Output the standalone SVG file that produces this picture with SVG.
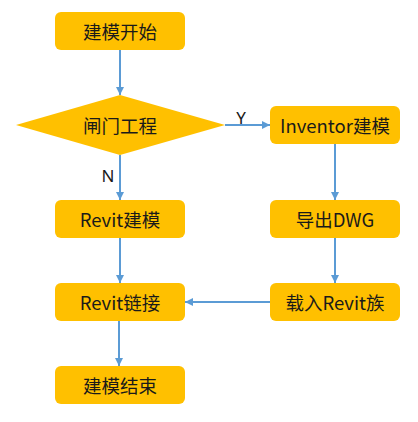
<svg xmlns="http://www.w3.org/2000/svg" width="418" height="422" viewBox="0 0 418 422">
<defs>
<style>
.box{fill:#FFC000;}
.t{font-family:"Noto Sans CJK SC","Noto Sans",sans-serif;font-size:18.5px;font-weight:400;fill:#1a1a1a;text-anchor:middle;dominant-baseline:central;}
.lbl{font-family:"Noto Sans","Liberation Sans",sans-serif;font-size:17px;fill:#1a1a1a;text-anchor:middle;}
.c{stroke:#5B9BD5;stroke-width:2;fill:none;marker-end:url(#ah);}
</style>
<marker id="ah" viewBox="0 0 10 10" refX="10" refY="5" markerWidth="4" markerHeight="4" orient="auto" markerUnits="strokeWidth">
<path d="M0,0 L10,5 L0,10 z" fill="#5B9BD5"/>
</marker>
</defs>
<rect width="418" height="422" fill="#ffffff"/>
<g id="connectors">
<line class="c" x1="120" y1="50" x2="120" y2="95"/>
<line class="c" x1="225" y1="125" x2="270" y2="125"/>
<line class="c" x1="120" y1="155" x2="120" y2="200"/>
<line class="c" x1="335" y1="144" x2="335" y2="200"/>
<line class="c" x1="335" y1="238" x2="335" y2="283"/>
<line class="c" x1="120" y1="238" x2="120" y2="283"/>
<line class="c" x1="270" y1="302" x2="185" y2="302"/>
<line class="c" x1="119" y1="321" x2="119" y2="366"/>
<text class="lbl" x="241" y="124">Y</text>
<text class="lbl" x="108" y="182">N</text>
</g>
<g id="start"><rect class="box" x="55" y="12" width="130" height="38" rx="6"/><text class="t" x="120" y="31">建模开始</text></g>
<g id="decision"><polygon class="box" points="120,95 225,125 120,155 16,125"/><text class="t" x="120" y="125">闸门工程</text></g>
<g id="inventor"><rect class="box" x="270" y="106" width="130" height="38" rx="6"/><text class="t" x="335" y="125">Inventor建模</text></g>
<g id="revit-model"><rect class="box" x="55" y="200" width="130" height="38" rx="6"/><text class="t" x="120" y="219">Revit建模</text></g>
<g id="export"><rect class="box" x="270" y="200" width="130" height="38" rx="6"/><text class="t" x="335" y="219">导出DWG</text></g>
<g id="revit-link"><rect class="box" x="55" y="283" width="130" height="38" rx="6"/><text class="t" x="120" y="302">Revit链接</text></g>
<g id="load"><rect class="box" x="270" y="283" width="130" height="38" rx="6"/><text class="t" x="335" y="302">载入Revit族</text></g>
<g id="end"><rect class="box" x="55" y="366" width="130" height="38" rx="6"/><text class="t" x="120" y="385">建模结束</text></g>
</svg>
